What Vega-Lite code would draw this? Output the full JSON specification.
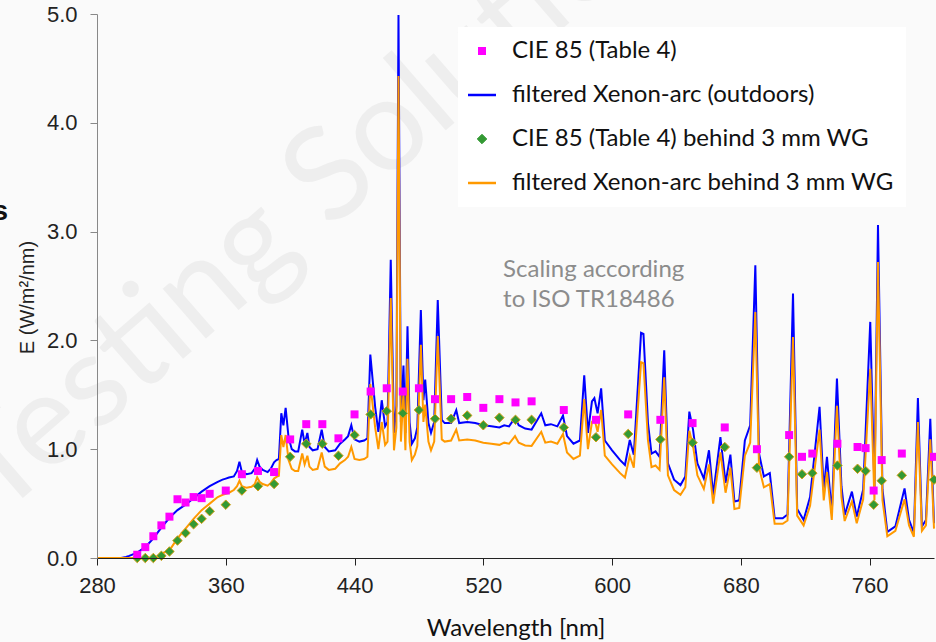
{
  "$schema": "https://vega.github.io/schema/vega-lite/v6.json",
  "width": 837,
  "height": 544,
  "autosize": "none",
  "padding": {"left": 97, "top": 14, "right": 2, "bottom": 84},
  "background": "#fafafa",
  "config": {"view": {"stroke": null}},
  "datasets": {
    "spectrum": [
      {"nm": 280, "out": 0, "wg": 0}, {"nm": 295, "out": 0, "wg": 0}, {"nm": 298, "out": 0.01, "wg": 0},
      {"nm": 300, "out": 0.02, "wg": 0}, {"nm": 305, "out": 0.05, "wg": 0}, {"nm": 310, "out": 0.10, "wg": 0},
      {"nm": 315, "out": 0.18, "wg": 0}, {"nm": 318, "out": 0.24, "wg": 0.01}, {"nm": 320, "out": 0.28, "wg": 0.04},
      {"nm": 325, "out": 0.37, "wg": 0.07}, {"nm": 330, "out": 0.44, "wg": 0.18}, {"nm": 335, "out": 0.49, "wg": 0.27},
      {"nm": 340, "out": 0.55, "wg": 0.36}, {"nm": 345, "out": 0.61, "wg": 0.44}, {"nm": 350, "out": 0.66, "wg": 0.50},
      {"nm": 355, "out": 0.70, "wg": 0.56}, {"nm": 358, "out": 0.72, "wg": 0.58}, {"nm": 360, "out": 0.73, "wg": 0.59},
      {"nm": 362, "out": 0.74, "wg": 0.60}, {"nm": 365, "out": 0.75, "wg": 0.625}, {"nm": 367, "out": 0.80, "wg": 0.66},
      {"nm": 368.5, "out": 0.885, "wg": 0.71}, {"nm": 370, "out": 0.79, "wg": 0.66}, {"nm": 373, "out": 0.77, "wg": 0.645},
      {"nm": 376, "out": 0.78, "wg": 0.655}, {"nm": 378, "out": 0.82, "wg": 0.68}, {"nm": 379.5, "out": 0.90, "wg": 0.74},
      {"nm": 381, "out": 0.84, "wg": 0.70}, {"nm": 383, "out": 0.81, "wg": 0.68}, {"nm": 386, "out": 0.79, "wg": 0.665},
      {"nm": 388, "out": 0.82, "wg": 0.69}, {"nm": 390, "out": 0.88, "wg": 0.73}, {"nm": 391.5, "out": 0.90, "wg": 0.745},
      {"nm": 393, "out": 0.91, "wg": 0.755}, {"nm": 394.5, "out": 1.33, "wg": 1.13}, {"nm": 395.8, "out": 1.22, "wg": 1.02},
      {"nm": 397.2, "out": 1.38, "wg": 1.13}, {"nm": 399, "out": 1.11, "wg": 0.90}, {"nm": 401, "out": 1.00, "wg": 0.82},
      {"nm": 403, "out": 0.98, "wg": 0.80}, {"nm": 405, "out": 0.98, "wg": 0.80}, {"nm": 407.5, "out": 1.18, "wg": 0.96},
      {"nm": 409, "out": 1.05, "wg": 0.86}, {"nm": 410.7, "out": 1.15, "wg": 0.94}, {"nm": 412, "out": 1.02, "wg": 0.84},
      {"nm": 414, "out": 0.99, "wg": 0.81}, {"nm": 417, "out": 1.00, "wg": 0.82}, {"nm": 419.6, "out": 1.18, "wg": 0.97},
      {"nm": 421.5, "out": 1.02, "wg": 0.84}, {"nm": 424, "out": 0.98, "wg": 0.81}, {"nm": 428, "out": 0.99, "wg": 0.82},
      {"nm": 431, "out": 1.05, "wg": 0.87}, {"nm": 434, "out": 1.09, "wg": 0.90}, {"nm": 436, "out": 1.12, "wg": 0.93},
      {"nm": 438, "out": 1.22, "wg": 1.02}, {"nm": 440, "out": 1.09, "wg": 0.91}, {"nm": 443, "out": 1.07, "wg": 0.90},
      {"nm": 446, "out": 1.08, "wg": 0.91}, {"nm": 448, "out": 1.10, "wg": 0.93}, {"nm": 449.8, "out": 1.87, "wg": 1.60},
      {"nm": 452.8, "out": 1.39, "wg": 1.20}, {"nm": 454.8, "out": 1.16, "wg": 1.00}, {"nm": 456.9, "out": 1.45, "wg": 1.25},
      {"nm": 459, "out": 1.21, "wg": 1.04}, {"nm": 460.5, "out": 1.25, "wg": 1.07}, {"nm": 462.5, "out": 2.74, "wg": 2.39},
      {"nm": 464.5, "out": 1.15, "wg": 0.99}, {"nm": 466, "out": 1.40, "wg": 1.20}, {"nm": 467.3, "out": 4.99, "wg": 4.43},
      {"nm": 468.8, "out": 1.25, "wg": 1.07}, {"nm": 470.4, "out": 1.77, "wg": 1.52}, {"nm": 471.6, "out": 1.15, "wg": 0.99},
      {"nm": 472.9, "out": 2.13, "wg": 1.83}, {"nm": 474.2, "out": 1.25, "wg": 1.07}, {"nm": 475.6, "out": 1.05, "wg": 0.90},
      {"nm": 477.5, "out": 1.10, "wg": 0.95}, {"nm": 479, "out": 1.20, "wg": 1.03}, {"nm": 481.2, "out": 2.28, "wg": 1.96},
      {"nm": 482.8, "out": 1.45, "wg": 1.25}, {"nm": 483.9, "out": 1.64, "wg": 1.41}, {"nm": 485.9, "out": 1.24, "wg": 1.07},
      {"nm": 487.5, "out": 1.15, "wg": 0.99}, {"nm": 489.5, "out": 1.25, "wg": 1.07}, {"nm": 491.7, "out": 2.37, "wg": 2.04},
      {"nm": 494.2, "out": 1.27, "wg": 1.09}, {"nm": 496, "out": 1.24, "wg": 1.07}, {"nm": 500, "out": 1.24, "wg": 1.08},
      {"nm": 503.2, "out": 1.36, "wg": 1.18}, {"nm": 505, "out": 1.24, "wg": 1.08}, {"nm": 510, "out": 1.25, "wg": 1.09},
      {"nm": 515, "out": 1.24, "wg": 1.08}, {"nm": 520, "out": 1.22, "wg": 1.06}, {"nm": 525, "out": 1.21, "wg": 1.05},
      {"nm": 530, "out": 1.20, "wg": 1.04}, {"nm": 533, "out": 1.22, "wg": 1.06}, {"nm": 536, "out": 1.21, "wg": 1.05},
      {"nm": 539.7, "out": 1.29, "wg": 1.12}, {"nm": 542, "out": 1.22, "wg": 1.06}, {"nm": 546, "out": 1.19, "wg": 1.035},
      {"nm": 550, "out": 1.18, "wg": 1.03}, {"nm": 556, "out": 1.33, "wg": 1.16}, {"nm": 558.5, "out": 1.22, "wg": 1.06},
      {"nm": 562, "out": 1.23, "wg": 1.07}, {"nm": 566, "out": 1.21, "wg": 1.05}, {"nm": 569.5, "out": 1.31, "wg": 1.14},
      {"nm": 572, "out": 1.12, "wg": 0.97}, {"nm": 576, "out": 1.05, "wg": 0.91}, {"nm": 580, "out": 1.08, "wg": 0.94},
      {"nm": 582.7, "out": 1.68, "wg": 1.46}, {"nm": 585, "out": 1.15, "wg": 1.00}, {"nm": 587.5, "out": 1.44, "wg": 1.25},
      {"nm": 589, "out": 1.47, "wg": 1.28}, {"nm": 591, "out": 1.33, "wg": 1.16}, {"nm": 593.2, "out": 1.56, "wg": 1.36},
      {"nm": 595.5, "out": 1.08, "wg": 0.94}, {"nm": 600, "out": 0.99, "wg": 0.86}, {"nm": 605, "out": 0.90, "wg": 0.78},
      {"nm": 608, "out": 0.855, "wg": 0.74}, {"nm": 611, "out": 1.085, "wg": 0.94}, {"nm": 613.5, "out": 0.95, "wg": 0.83},
      {"nm": 618, "out": 2.07, "wg": 1.80}, {"nm": 619.5, "out": 2.06, "wg": 1.79}, {"nm": 622.3, "out": 1.24, "wg": 1.08},
      {"nm": 624.5, "out": 0.96, "wg": 0.835}, {"nm": 627, "out": 0.98, "wg": 0.85}, {"nm": 629.5, "out": 0.93, "wg": 0.81},
      {"nm": 632.4, "out": 1.91, "wg": 1.66}, {"nm": 634.7, "out": 0.87, "wg": 0.76}, {"nm": 638.5, "out": 0.72, "wg": 0.625},
      {"nm": 642.5, "out": 0.67, "wg": 0.58}, {"nm": 645.5, "out": 0.75, "wg": 0.65}, {"nm": 648, "out": 1.345, "wg": 1.17},
      {"nm": 650.3, "out": 1.18, "wg": 1.03}, {"nm": 653, "out": 0.87, "wg": 0.76}, {"nm": 657, "out": 0.73, "wg": 0.635},
      {"nm": 660.2, "out": 0.99, "wg": 0.86}, {"nm": 662.8, "out": 0.58, "wg": 0.50}, {"nm": 667.3, "out": 1.11, "wg": 0.97},
      {"nm": 670.5, "out": 0.69, "wg": 0.60}, {"nm": 673.5, "out": 0.95, "wg": 0.83}, {"nm": 676, "out": 0.52, "wg": 0.45},
      {"nm": 679, "out": 0.53, "wg": 0.46}, {"nm": 682.5, "out": 1.08, "wg": 0.94}, {"nm": 685.8, "out": 1.22, "wg": 1.06},
      {"nm": 689, "out": 2.69, "wg": 2.26}, {"nm": 691.3, "out": 0.96, "wg": 0.835}, {"nm": 694.3, "out": 0.75, "wg": 0.65},
      {"nm": 698, "out": 0.78, "wg": 0.68}, {"nm": 701, "out": 0.365, "wg": 0.315}, {"nm": 706, "out": 0.365, "wg": 0.315},
      {"nm": 709, "out": 0.40, "wg": 0.345}, {"nm": 712.4, "out": 2.43, "wg": 2.03}, {"nm": 715, "out": 0.45, "wg": 0.39},
      {"nm": 719, "out": 0.35, "wg": 0.30}, {"nm": 723, "out": 0.56, "wg": 0.48}, {"nm": 728.9, "out": 1.39, "wg": 1.18},
      {"nm": 731.5, "out": 0.625, "wg": 0.53}, {"nm": 733.5, "out": 0.93, "wg": 0.79}, {"nm": 736.5, "out": 0.41, "wg": 0.35},
      {"nm": 739.7, "out": 1.65, "wg": 1.40}, {"nm": 742.5, "out": 0.66, "wg": 0.56}, {"nm": 744.5, "out": 0.395, "wg": 0.34},
      {"nm": 749, "out": 0.61, "wg": 0.52}, {"nm": 752, "out": 0.38, "wg": 0.32}, {"nm": 756, "out": 0.63, "wg": 0.54},
      {"nm": 760.4, "out": 2.17, "wg": 1.74}, {"nm": 763, "out": 0.63, "wg": 0.53}, {"nm": 765.2, "out": 3.06, "wg": 2.72},
      {"nm": 768, "out": 0.63, "wg": 0.53}, {"nm": 771, "out": 0.24, "wg": 0.20}, {"nm": 776, "out": 0.29, "wg": 0.25},
      {"nm": 781.7, "out": 0.64, "wg": 0.54}, {"nm": 784.5, "out": 0.35, "wg": 0.30}, {"nm": 787.5, "out": 0.23, "wg": 0.195},
      {"nm": 790, "out": 1.47, "wg": 1.25}, {"nm": 792.5, "out": 0.29, "wg": 0.25}, {"nm": 795, "out": 0.35, "wg": 0.30},
      {"nm": 797.7, "out": 1.28, "wg": 1.09}, {"nm": 800, "out": 0.32, "wg": 0.27}
    ],
    "cie85": [
      {"nm": 305, "out": 0.03, "wg": 0.00}, {"nm": 310, "out": 0.10, "wg": 0.00}, {"nm": 315, "out": 0.20, "wg": 0.00},
      {"nm": 320, "out": 0.30, "wg": 0.02}, {"nm": 325, "out": 0.38, "wg": 0.06}, {"nm": 330, "out": 0.54, "wg": 0.16},
      {"nm": 335, "out": 0.51, "wg": 0.23}, {"nm": 340, "out": 0.56, "wg": 0.31}, {"nm": 345, "out": 0.55, "wg": 0.36},
      {"nm": 350, "out": 0.59, "wg": 0.43}, {"nm": 360, "out": 0.62, "wg": 0.49}, {"nm": 370, "out": 0.77, "wg": 0.62},
      {"nm": 380, "out": 0.80, "wg": 0.66}, {"nm": 390, "out": 0.79, "wg": 0.68}, {"nm": 400, "out": 1.09, "wg": 0.93},
      {"nm": 410, "out": 1.23, "wg": 1.05}, {"nm": 420, "out": 1.23, "wg": 1.05}, {"nm": 430, "out": 1.10, "wg": 0.94},
      {"nm": 440, "out": 1.32, "wg": 1.13}, {"nm": 450, "out": 1.53, "wg": 1.32}, {"nm": 460, "out": 1.56, "wg": 1.35},
      {"nm": 470, "out": 1.53, "wg": 1.33}, {"nm": 480, "out": 1.56, "wg": 1.36}, {"nm": 490, "out": 1.46, "wg": 1.28},
      {"nm": 500, "out": 1.46, "wg": 1.28}, {"nm": 510, "out": 1.48, "wg": 1.31}, {"nm": 520, "out": 1.38, "wg": 1.22},
      {"nm": 530, "out": 1.46, "wg": 1.29}, {"nm": 540, "out": 1.43, "wg": 1.27}, {"nm": 550, "out": 1.44, "wg": 1.27},
      {"nm": 570, "out": 1.36, "wg": 1.20}, {"nm": 590, "out": 1.27, "wg": 1.11}, {"nm": 610, "out": 1.32, "wg": 1.14},
      {"nm": 630, "out": 1.27, "wg": 1.09}, {"nm": 650, "out": 1.24, "wg": 1.06}, {"nm": 670, "out": 1.20, "wg": 1.02},
      {"nm": 690, "out": 1.00, "wg": 0.83}, {"nm": 710, "out": 1.13, "wg": 0.93}, {"nm": 718, "out": 0.93, "wg": 0.77},
      {"nm": 724.4, "out": 0.96, "wg": 0.78}, {"nm": 740, "out": 1.05, "wg": 0.85}, {"nm": 752.5, "out": 1.02, "wg": 0.82},
      {"nm": 757.5, "out": 1.01, "wg": 0.80}, {"nm": 762.5, "out": 0.62, "wg": 0.49}, {"nm": 767.5, "out": 0.90, "wg": 0.71},
      {"nm": 780, "out": 0.96, "wg": 0.76}, {"nm": 800, "out": 0.93, "wg": 0.72}
    ]
  },
  "encoding": {
    "x": {
      "type": "quantitative",
      "scale": {"domain": [280, 800], "nice": false, "zero": false},
      "axis": {
        "zindex": 1,
        "values": [280, 360, 440, 520, 600, 680, 760],
        "title": "Wavelength [nm]",
        "titleFont": "Lato",
        "titleFontSize": 24,
        "titleFontWeight": "normal",
        "titleColor": "#111111",
        "titleY": 70,
        "titleBaseline": "middle",
        "labelFont": "Liberation Sans",
        "labelFontSize": 22,
        "labelColor": "#222222",
        "labelPadding": 10,
        "labelFlush": false,
        "tickSize": 7,
        "tickColor": "#222222",
        "domainColor": "#222222",
        "grid": false
      }
    },
    "y": {
      "type": "quantitative",
      "scale": {"domain": [0, 5], "nice": false},
      "axis": {
        "zindex": 1,
        "values": [0, 1, 2, 3, 4, 5],
        "format": ".1f",
        "title": "E (W/m²/nm)",
        "titleFont": "Liberation Sans",
        "titleFontSize": 20,
        "titleFontWeight": "normal",
        "titleColor": "#222222",
        "titleAngle": 270,
        "titleX": -70,
        "titleY": 283,
        "titleAlign": "center",
        "titleBaseline": "middle",
        "labelFont": "Liberation Sans",
        "labelFontSize": 22,
        "labelColor": "#222222",
        "labelPadding": 13,
        "tickSize": 7,
        "tickColor": "#888888",
        "domainColor": "#888888",
        "grid": false
      }
    }
  },
  "layer": [
    {
      "data": {"values": [{}]},
      "mark": {"type": "text", "text": "Testing Solutions", "font": "Lato", "fontSize": 130, "angle": -41, "color": "#eeeeee", "align": "center", "baseline": "middle"},
      "encoding": {"x": {"datum": 430}, "y": {"datum": 3.55}}
    },
    {
      "data": {"values": [{}]},
      "mark": {"type": "text", "text": "s", "font": "Liberation Sans", "fontSize": 28, "fontWeight": "bold", "color": "#111111", "align": "right", "baseline": "alphabetic"},
      "encoding": {"x": {"datum": 224.7}, "y": {"datum": 3.107}}
    },
    {
      "data": {"values": [{}]},
      "mark": {"type": "text", "text": ["Scaling according", "to ISO TR18486"], "font": "Lato", "fontSize": 24, "lineHeight": 30, "color": "#8c8c8c", "align": "left", "baseline": "alphabetic"},
      "encoding": {"x": {"datum": 532.3}, "y": {"datum": 2.58}}
    },
    {
      "data": {"name": "spectrum"},
      "mark": {"type": "line", "strokeWidth": 2, "interpolate": "linear"},
      "encoding": {
        "x": {"field": "nm"},
        "y": {"field": "out"},
        "color": {
          "datum": "filtered Xenon-arc (outdoors)",
          "type": "nominal",
          "scale": {
            "domain": ["CIE 85 (Table 4)", "filtered Xenon-arc (outdoors)", "CIE 85 (Table 4) behind 3 mm WG", "filtered Xenon-arc behind 3 mm WG"],
            "range": ["#ff00ff", "#0000ff", "#339933", "#ff9900"]
          },
          "legend": {
            "title": null,
            "orient": "none",
            "legendX": 361,
            "legendY": 13,
            "padding": 12,
            "fillColor": "#ffffff",
            "labelFont": "Lato",
            "labelFontSize": 24,
            "labelColor": "#111111",
            "labelLimit": 600,
            "labelOffset": 18,
            "rowPadding": 20,
            "symbolSize": 784,
            "encode": {
              "symbols": {
                "update": {
                  "shape": {"signal": "datum.value === 'CIE 85 (Table 4)' ? 'square' : datum.value === 'CIE 85 (Table 4) behind 3 mm WG' ? 'diamond' : 'stroke'"},
                  "size": {"signal": "datum.value === 'CIE 85 (Table 4)' ? 64 : datum.value === 'CIE 85 (Table 4) behind 3 mm WG' ? 90 : 784"},
                  "fill": {"signal": "scale('color', datum.value)"},
                  "stroke": {"signal": "datum.value === 'CIE 85 (Table 4) behind 3 mm WG' ? '#d4a017' : scale('color', datum.value)"},
                  "strokeWidth": {"signal": "datum.value === 'CIE 85 (Table 4)' ? 0 : datum.value === 'CIE 85 (Table 4) behind 3 mm WG' ? 1 : 2.5"},
                  "opacity": {"value": 1}
                }
              }
            }
          }
        }
      }
    },
    {
      "data": {"name": "spectrum"},
      "mark": {"type": "line", "strokeWidth": 2, "interpolate": "linear"},
      "encoding": {
        "x": {"field": "nm"},
        "y": {"field": "wg"},
        "color": {"datum": "filtered Xenon-arc behind 3 mm WG", "type": "nominal"}
      }
    },
    {
      "data": {"name": "cie85"},
      "mark": {"type": "point", "shape": "diamond", "filled": true, "size": 90, "opacity": 1, "stroke": "#d4a017", "strokeWidth": 1},
      "encoding": {
        "x": {"field": "nm"},
        "y": {"field": "wg"},
        "color": {"datum": "CIE 85 (Table 4) behind 3 mm WG", "type": "nominal"}
      }
    },
    {
      "data": {"name": "cie85"},
      "mark": {"type": "point", "shape": "square", "filled": true, "size": 64, "opacity": 1, "strokeWidth": 0},
      "encoding": {
        "x": {"field": "nm"},
        "y": {"field": "out"},
        "color": {"datum": "CIE 85 (Table 4)", "type": "nominal"}
      }
    }
  ]
}
